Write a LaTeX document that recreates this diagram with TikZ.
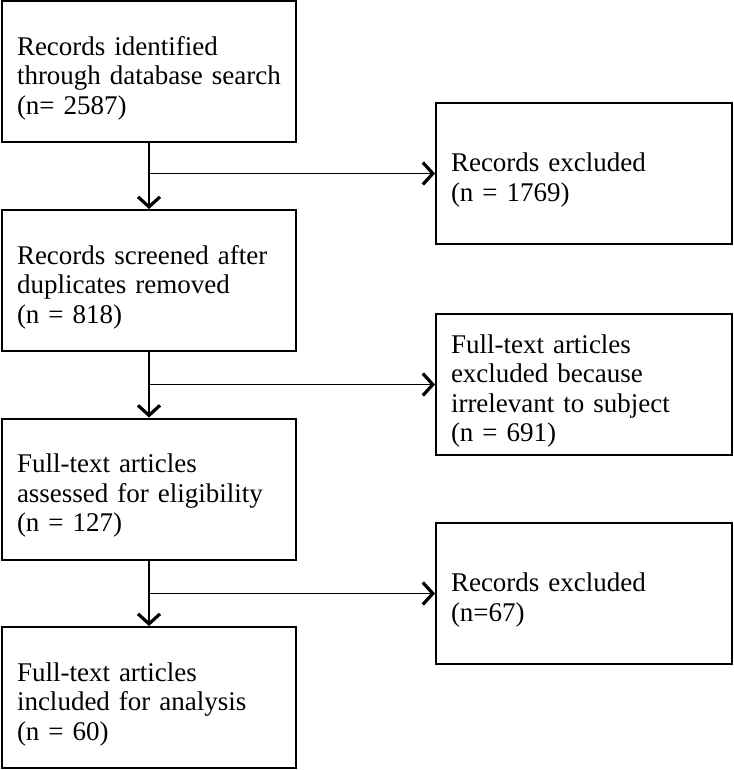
\documentclass[tikz,border=0pt]{standalone}
\usepackage{fontspec}
\setmainfont{Liberation Serif}
\usetikzlibrary{arrows.meta}

\tikzset{
    stage/.style={draw, line width=2pt, rectangle, minimum height=141pt,
        inner xsep=15pt, align=left, text width=#1,
        execute at begin node={\rule{0pt}{32pt}},
        font=\fontsize{27}{29.5}\selectfont},
    flow/.style={line width=1.2pt,
        -{Straight Barb[length=10pt,width=22pt,line width=3.2pt]}}
}

\begin{document}
\begin{tikzpicture}[x=1pt,y=-1pt]
                \useasboundingbox (0,0) rectangle (733,770);
                \node[stage=264pt] (ident) at (149,71.5) {Records identified\\through database search\\(n= 2587)};
                \node[stage=264pt] (screen) at (149,280.5) {Records screened after\\duplicates removed\\(n = 818)};
                \node[stage=264pt] (assess) at (149,489) {Full-text articles\\assessed for eligibility\\(n = 127)};
                \node[stage=264pt] (incl) at (149,697.5) {Full-text articles\\included for analysis\\(n = 60)};
                \node[stage=266pt] (excla) at (584,173.5) {Records excluded\\(n = 1769)};
                \node[stage=266pt] (exclb) at (584,384.5) {Full-text articles\\excluded because\\irrelevant to subject\\(n = 691)};
                \node[stage=266pt] (exclc) at (584,593.5) {Records excluded\\(n=67)};
                \draw[flow] (ident) -- (screen);
                \draw[flow] (screen) -- (assess);
                \draw[flow] (assess) -- (incl);
                \draw[flow] (ident.south |- excla.west) -- (excla);
                \draw[flow] (screen.south |- exclb.west) -- (exclb);
                \draw[flow] (assess.south |- exclc.west) -- (exclc);
            \end{tikzpicture}
\end{document}
